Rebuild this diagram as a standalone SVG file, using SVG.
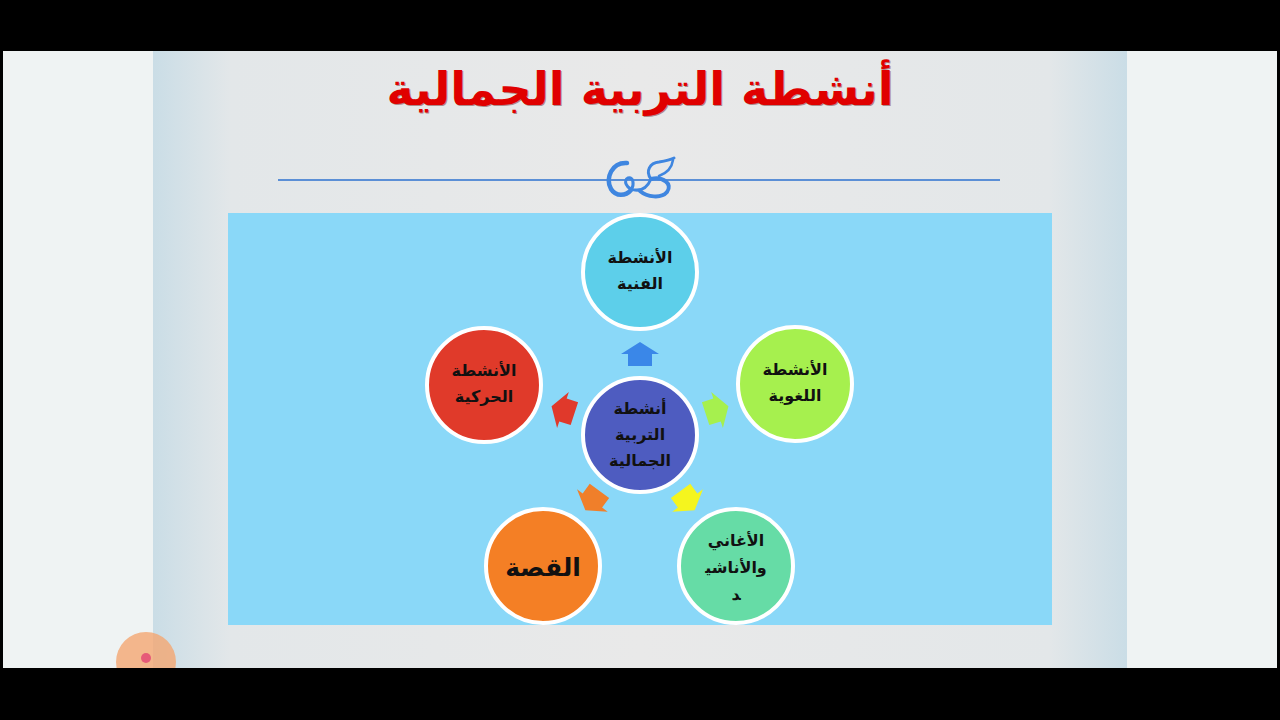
<svg xmlns="http://www.w3.org/2000/svg" width="1280" height="720" viewBox="0 0 1280 720">
<defs>
<linearGradient id="slideBg" x1="0" y1="0" x2="1" y2="0">
<stop offset="0" stop-color="#cadde6"/>
<stop offset="0.08" stop-color="#e3e7e9"/>
<stop offset="0.5" stop-color="#e9e9e9"/>
<stop offset="0.92" stop-color="#e3e7e9"/>
<stop offset="1" stop-color="#cadde6"/>
</linearGradient>
<path id="arrow" d="M640,342 L659,354 L652,354 L652,366 L628,366 L628,354 L621,354 Z"/>
</defs>
<style>
.node circle{stroke:#ffffff;stroke-width:4}
.lbl{font-family:"DejaVu Sans","Noto Sans",sans-serif;font-weight:bold;fill:#111111;text-anchor:middle;direction:rtl;font-size:16px}
.title{font-family:"DejaVu Sans","Noto Sans",sans-serif;font-weight:bold;text-anchor:middle;direction:rtl;font-size:46px}
</style>
<rect x="0" y="0" width="1280" height="720" fill="#000000"/>
<rect x="3" y="51" width="1274" height="617" fill="#eff3f3"/>
<rect x="153" y="51" width="974" height="617" fill="url(#slideBg)"/>
<g id="title">
<text class="title" x="641" y="106" fill="#5a0000" opacity="0.4">أنشطة التربية الجمالية</text>
<text class="title" x="640" y="105" fill="#e00000">أنشطة التربية الجمالية</text>
</g>
<g id="divider">
<line x1="278" y1="180" x2="1000" y2="180" stroke="#5b8fd6" stroke-width="2"/>
<g fill="none" stroke="#3f86e0" stroke-linecap="round">
<path d="M627,163 C612,162 605,178 611,189 C616,197 626,196 631,190" stroke-width="4.5"/>
<path d="M631,190 C635,184 633,177 628,178 C623,180 626,189 635,190 C643,191 648,186 651,179" stroke-width="3"/>
<path d="M651,179 C663,176 673,184 667,192 C661,199 647,197 640,191" stroke-width="4"/>
<path d="M651,179 C645,171 650,163 659,162 C665,161 670,160 674,158" stroke-width="3"/>
<path d="M659,176 C667,173 672,167 673,160" stroke-width="2.5"/>
</g>
</g>
<rect id="panel" x="228" y="213" width="824" height="412" fill="#8ad8f8"/>
<g id="connectors">
<use href="#arrow" fill="#3a87e8"/>
<use href="#arrow" fill="#a6f04e" transform="rotate(72 640 435)"/>
<use href="#arrow" fill="#f5f51e" transform="rotate(144 640 435)"/>
<use href="#arrow" fill="#f07f2a" transform="rotate(216 640 435)"/>
<use href="#arrow" fill="#e0392b" transform="rotate(288 640 435)"/>
</g>
<g id="node-center" class="node">
<circle cx="640" cy="435" r="57" fill="#4e5cc0"/>
<text class="lbl" x="640" y="414">أنشطة</text>
<text class="lbl" x="640" y="440">التربية</text>
<text class="lbl" x="640" y="466">الجمالية</text>
</g>
<g id="node-art" class="node">
<circle cx="640" cy="272" r="57" fill="#5dcfea"/>
<text class="lbl" x="640" y="263">الأنشطة</text>
<text class="lbl" x="640" y="289">الفنية</text>
</g>
<g id="node-language" class="node">
<circle cx="795" cy="384" r="57" fill="#a6f04e"/>
<text class="lbl" x="795" y="375">الأنشطة</text>
<text class="lbl" x="795" y="401">اللغوية</text>
</g>
<g id="node-songs" class="node">
<circle cx="736" cy="566" r="57" fill="#66dca6"/>
<text class="lbl" x="736" y="546">الأغاني</text>
<text class="lbl" x="736" y="573">والأناشي&#x200D;</text>
<text class="lbl" x="736" y="600">&#x200D;د</text>
</g>
<g id="node-story" class="node">
<circle cx="543" cy="566" r="57" fill="#f47f25"/>
<text class="lbl" x="543" y="576" style="font-size:25px">القصة</text>
</g>
<g id="node-motor" class="node">
<circle cx="484" cy="385" r="57" fill="#e03a2a"/>
<text class="lbl" x="484" y="376">الأنشطة</text>
<text class="lbl" x="484" y="402">الحركية</text>
</g>
<g id="overlay">
<circle cx="146" cy="662" r="30" fill="#f4a672" opacity="0.8"/>
<circle cx="146" cy="658" r="5" fill="#e65a78"/>
<rect x="0" y="668" width="1280" height="52" fill="#000000"/>
</g>
</svg>
